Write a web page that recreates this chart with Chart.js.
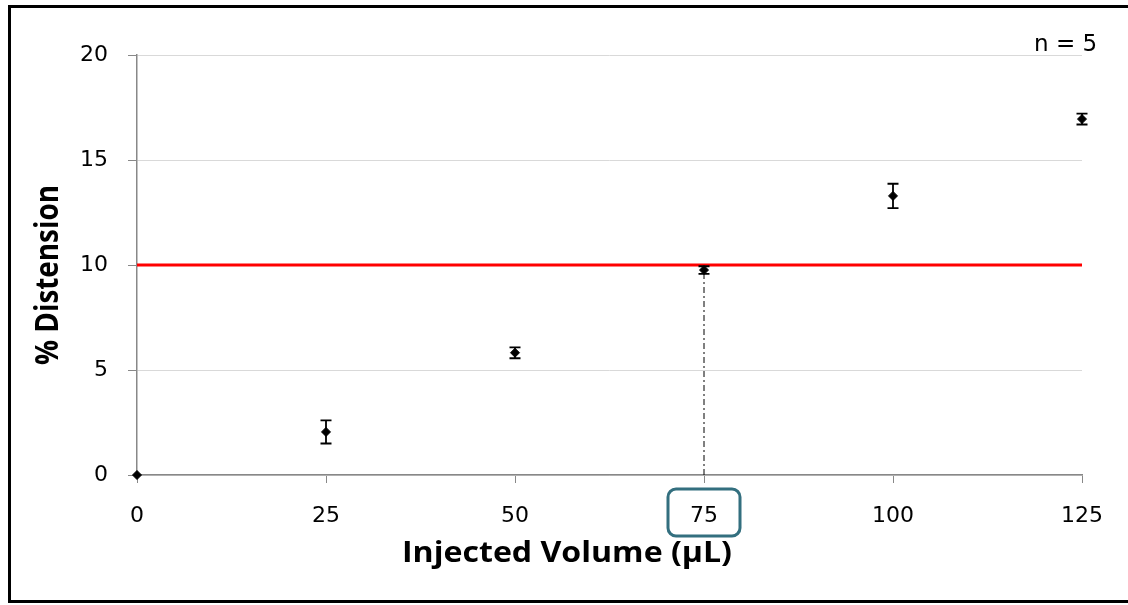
<!DOCTYPE html>
<html><head><meta charset="utf-8">
<script src="https://cdn.jsdelivr.net/npm/chart.js@4"></script>
<style>
html,body{margin:0;padding:0;background:#fff;}
#wrap{position:relative;width:1128px;height:605px;overflow:hidden;background:#fff;}
#frame{position:absolute;left:8px;top:5px;width:1130px;height:598px;border:3px solid #000;box-sizing:border-box;}
#c{position:absolute;left:0;top:0;}
#n{position:absolute;left:1034px;top:30px;font:23px "DejaVu Sans";color:#000;white-space:nowrap;}
</style></head>
<body>
<div id="wrap">
<div id="frame"></div>
<canvas id="c" width="1128" height="605"></canvas>
<div id="n">n = 5</div>
</div>
<script>
const volumes = [0, 25, 50, 75, 100, 125];
const distension = [0, 2.05, 5.82, 9.76, 13.29, 16.95];
const errors = [0, 0.55, 0.26, 0.18, 0.58, 0.26];
const xTickValues = [0, 25, 50, 75, 100, 125];
const threshold = 10;
const highlightVolume = 75;
const xTitle = 'Injected Volume (µL)';
const yTitle = '% Distension';

const points = volumes.map((v, i) => ({x: v, y: distension[i]}));
const hi = volumes.indexOf(highlightVolume);

const errorBars = {
  id: 'errorBars',
  afterDatasetsDraw(chart) {
    const {ctx, scales: {x, y}} = chart;
    ctx.save();
    ctx.strokeStyle = '#000';
    ctx.lineWidth = 1.8;
    volumes.forEach((v, i) => {
      if (!errors[i]) return;
      const px = x.getPixelForValue(v);
      const t = y.getPixelForValue(distension[i] + errors[i]);
      const b = y.getPixelForValue(distension[i] - errors[i]);
      ctx.beginPath();
      ctx.moveTo(px, t); ctx.lineTo(px, b);
      ctx.moveTo(px - 5.5, t); ctx.lineTo(px + 5.5, t);
      ctx.moveTo(px - 5.5, b); ctx.lineTo(px + 5.5, b);
      ctx.stroke();
    });
    ctx.restore();
  }
};

function fitText(ctx, text, font, width) {
  ctx.font = font;
  return width / ctx.measureText(text).width;
}

const decorations = {
  id: 'decorations',
  afterDraw(chart) {
    const {ctx, scales: {x}} = chart;
    const px = x.getPixelForValue(highlightVolume);
    ctx.save();
    ctx.strokeStyle = '#336f7f';
    ctx.lineWidth = 3;
    ctx.beginPath();
    ctx.roundRect(px - 36, 489, 72, 47, 8);
    ctx.stroke();

    // x axis title
    ctx.fillStyle = '#000';
    ctx.textBaseline = 'alphabetic';
    ctx.textAlign = 'left';
    let f = 'bold 28px "Open Sans"';
    let s = fitText(ctx, xTitle, f, 330);
    ctx.save();
    ctx.translate(402, 562);
    ctx.scale(s, 1);
    ctx.fillText(xTitle, 0, 0);
    ctx.restore();

    // y axis title
    f = 'bold 32px "Open Sans"';
    s = fitText(ctx, yTitle, f, 180);
    ctx.save();
    ctx.translate(58, 365);
    ctx.rotate(-Math.PI / 2);
    ctx.scale(s, 1);
    ctx.fillText(yTitle, 0, 0);
    ctx.restore();
    ctx.restore();
  }
};

new Chart(document.getElementById('c'), {
  type: 'scatter',
  data: {
    datasets: [
      {
        type: 'line',
        data: [{x: xTickValues[0], y: threshold}, {x: xTickValues[xTickValues.length - 1], y: threshold}],
        borderColor: '#ff0000', borderWidth: 3, pointRadius: 0, order: 3
      },
      {
        type: 'line',
        data: [{x: highlightVolume, y: 0}, {x: highlightVolume, y: distension[hi]}],
        borderColor: '#000', borderWidth: 1, borderDash: [6, 3, 2, 3], pointRadius: 0, order: 2
      },
      {
        data: points, clip: false,
        pointStyle: 'rectRot', pointRadius: 4.5, backgroundColor: '#000', borderColor: '#000', order: 1
      }
    ]
  },
  options: {
    responsive: false,
    animation: false,
    layout: {padding: {top: 55, right: 46, left: 0, bottom: 0}},
    plugins: {legend: {display: false}, tooltip: {enabled: false}},
    scales: {
      x: {
        type: 'linear', min: 0, max: 125,
        afterBuildTicks: s => { s.ticks = xTickValues.map(v => ({value: v})); },
        afterFit: s => { s.height = 130; },
        grid: {drawOnChartArea: false, drawTicks: true, tickLength: 8, tickColor: '#888', lineWidth: 1},
        border: {color: '#888', width: 1.5},
        ticks: {padding: 20, color: '#000', font: {family: 'DejaVu Sans', size: 22}, maxRotation: 0}
      },
      y: {
        min: 0, max: 20,
        ticks: {stepSize: 5, padding: 20, color: '#000', font: {family: 'DejaVu Sans', size: 22}},
        afterFit: s => { s.width = 137; },
        grid: {color: '#d9d9d9', tickColor: '#888', tickLength: 9, lineWidth: 1},
        border: {color: '#888', width: 1.5}
      }
    }
  },
  plugins: [errorBars, decorations]
});
</script>
</body></html>
